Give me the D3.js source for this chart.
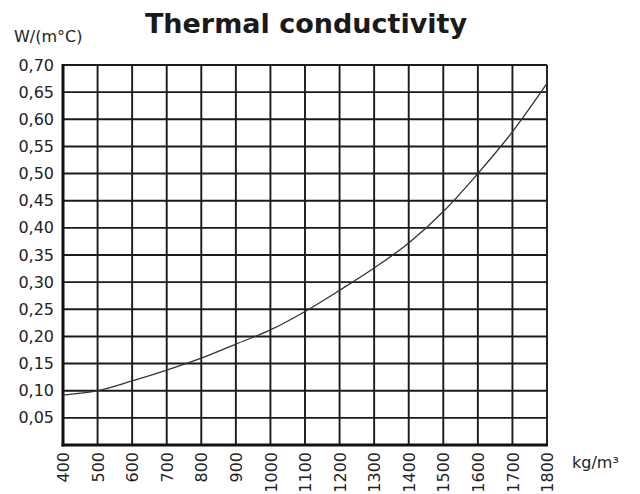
<!DOCTYPE html>
<html><head><meta charset="utf-8">
<script src="https://cdn.jsdelivr.net/npm/d3@7"></script>
<style>html,body{margin:0;padding:0;background:#fff;}</style>
</head><body>
<svg id="c" width="640" height="494"></svg>
<script>
const density = [400,500,600,700,800,900,1000,1100,1200,1300,1400,1500,1600,1700,1800];
const conductivity = [0.092,0.100,0.118,0.138,0.160,0.186,0.212,0.246,0.285,0.326,0.372,0.430,0.500,0.577,0.666];
const xTicks = [400,500,600,700,800,900,1000,1100,1200,1300,1400,1500,1600,1700,1800];
const yTicks = [0.05,0.10,0.15,0.20,0.25,0.30,0.35,0.40,0.45,0.50,0.55,0.60,0.65,0.70];
const title = "Thermal conductivity";
const yUnit = "W/(m°C)";
const xUnit = "kg/m³";

const svg = d3.select("#c");
const L = 63, R = 547, T = 65, B = 445;
const x = d3.scaleLinear().domain([400,1800]).range([L,R]);
const y = d3.scaleLinear().domain([0,0.70]).range([B,T]);
const font = "'DejaVu Sans', Verdana, sans-serif";

// grid
svg.append("g").selectAll("line").data(xTicks).join("line")
  .attr("x1", d=>x(d)).attr("x2", d=>x(d)).attr("y1", T).attr("y2", B)
  .attr("stroke", "#1a1a1a").attr("stroke-width", 1.9);
svg.append("g").selectAll("line").data(yTicks).join("line")
  .attr("y1", d=>y(d)).attr("y2", d=>y(d)).attr("x1", L).attr("x2", R)
  .attr("stroke", "#1a1a1a").attr("stroke-width", 1.9);
// border axes
svg.append("line").attr("x1", L).attr("x2", L).attr("y1", T-1).attr("y2", B+1.5)
  .attr("stroke", "#111").attr("stroke-width", 3);
svg.append("line").attr("x1", L-1.5).attr("x2", R+1).attr("y1", B).attr("y2", B)
  .attr("stroke", "#111").attr("stroke-width", 3);

// y axis labels
const fmt = d => d3.format(".2f")(d).replace(".", ",");
const yAxis = d3.axisLeft(y).tickValues(yTicks).tickFormat(fmt).tickSize(0).tickPadding(9);
const gy = svg.append("g").attr("transform", `translate(${L},0)`).call(yAxis);
gy.select(".domain").remove();
gy.selectAll("text").attr("font-family", font).attr("font-size", 16).attr("fill", "#222");

// x axis labels
const xAxis = d3.axisBottom(x).tickValues(xTicks).tickFormat(d=>String(d)).tickSize(0);
const gx = svg.append("g").attr("transform", `translate(0,${B})`).call(xAxis);
gx.select(".domain").remove();
gx.selectAll("text").attr("font-family", font).attr("font-size", 16).attr("fill", "#222")
  .attr("text-anchor", "end").attr("transform", "rotate(-90)")
  .attr("x", -7).attr("y", 0).attr("dy", "0.35em");

// curve
const line = d3.line().x((d,i)=>x(density[i])).y(d=>y(d)).curve(d3.curveMonotoneX);
svg.append("path").datum(conductivity).attr("d", line)
  .attr("fill", "none").attr("stroke", "#333").attr("stroke-width", 1.3);

// texts
svg.append("text").attr("x", 306).attr("y", 33).attr("text-anchor", "middle")
  .attr("font-family", font).attr("font-weight", "bold").attr("font-size", 27).attr("fill", "#1a1a1a")
  .text(title);
svg.append("text").attr("x", 14).attr("y", 42)
  .attr("font-family", font).attr("font-size", 16).attr("fill", "#222").text(yUnit);
svg.append("text").attr("x", 572).attr("y", 468)
  .attr("font-family", font).attr("font-size", 16).attr("fill", "#222").text(xUnit);
</script>
</body></html>
